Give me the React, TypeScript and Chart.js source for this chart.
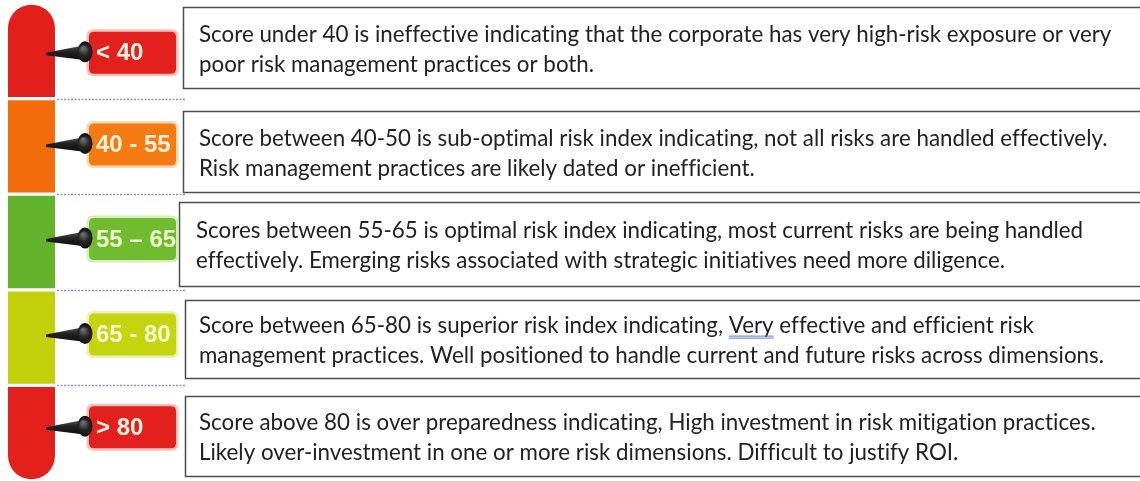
import React, { useEffect, useRef } from 'react';
import { Chart, registerables } from 'chart.js';

Chart.register(...registerables);

// ---- data ----
const bandLabels = ['< 40', '40 - 55', '55 – 65', '65 - 80', '> 80'];
const bandFill = [1, 1, 1, 1, 1];
const bandLine1 = [
  'Score under 40 is ineffective indicating that the corporate has very high-risk exposure or very',
  'Score between 40-50 is sub-optimal risk index indicating, not all risks are handled effectively.',
  'Scores between 55-65 is optimal risk index indicating, most current risks are being handled',
  'Score between 65-80 is superior risk index indicating, Very effective and efficient risk',
  'Score above 80 is over preparedness indicating, High investment in risk mitigation practices.',
];
const bandLine2 = [
  'poor risk management practices or both.',
  'Risk management practices are likely dated or inefficient.',
  'effectively. Emerging risks associated with strategic initiatives need more diligence.',
  'management practices. Well positioned to handle current and future risks across dimensions.',
  'Likely over-investment in one or more risk dimensions. Difficult to justify ROI.',
];

// ---- styles / layout ----
const bandColors = ['#e11f1b', '#f36c0c', '#62b22c', '#c3d10d', '#e3201c'];
const badgeColors = ['#e2201d', '#f47a12', '#71bb2e', '#c4d40f', '#e2201d'];
const badgeHalo = ['#f7c2ba', '#fbd6b2', '#d6ecc0', '#ecf1b4', '#f7c2ba'];
const badgeTextColors = ['#fff4e4', '#fff1dc', '#eef8d2', '#f7f8d2', '#fff4e4'];
const badgeShift = [2, -2, -3, -3, -6];
const boxShift = [-3, 5, 2, 1, 3];
const boxHeight = [81, 81, 84, 78, 80];
const boxLeft = [183, 183, 179, 185, 185];
const textLeft = [199, 199, 196, 199, 199];

function roundRect(ctx: CanvasRenderingContext2D, x: number, y: number, w: number, h: number, r: number) {
  ctx.beginPath();
  ctx.moveTo(x + r, y);
  ctx.lineTo(x + w - r, y);
  ctx.quadraticCurveTo(x + w, y, x + w, y + r);
  ctx.lineTo(x + w, y + h - r);
  ctx.quadraticCurveTo(x + w, y + h, x + w - r, y + h);
  ctx.lineTo(x + r, y + h);
  ctx.quadraticCurveTo(x, y + h, x, y + h - r);
  ctx.lineTo(x, y + r);
  ctx.quadraticCurveTo(x, y, x + r, y);
  ctx.closePath();
}

const infoPlugin = {
  id: 'riskInfo',
  afterDatasetsDraw(chart: any) {
    const ctx: any = chart.ctx;
    const yScale = chart.scales.y;
    const area = chart.chartArea;
    const n = bandLabels.length;
    ctx.save();

    // dotted separators
    ctx.strokeStyle = '#7f9bc4';
    ctx.lineWidth = 1.5;
    ctx.setLineDash([2, 1.5]);
    for (let i = 0; i < n - 1; i++) {
      const y = Math.round((yScale.getPixelForValue(i) + yScale.getPixelForValue(i + 1)) / 2) + 0.5;
      ctx.beginPath();
      ctx.moveTo(area.right + 2, y);
      ctx.lineTo(186, y);
      ctx.stroke();
    }
    ctx.setLineDash([]);

    // font fit (ligatures disabled via tiny letter spacing)
    if ('letterSpacing' in ctx) ctx.letterSpacing = '0.01px';
    ctx.font = '100px Lato, "Open Sans", sans-serif';
    const fs = (100 * 912) / ctx.measureText(bandLine1[0]).width;
    const bodyFont = `${fs.toFixed(2)}px Lato, "Open Sans", sans-serif`;

    for (let i = 0; i < n; i++) {
      const rc = yScale.getPixelForValue(i);

      // text box
      const bc = rc + boxShift[i];
      const bh = boxHeight[i];
      const top = Math.round(bc - bh / 2) + 0.5;
      ctx.fillStyle = '#ffffff';
      ctx.fillRect(boxLeft[i] + 0.5, top, 1160 - boxLeft[i], bh);
      ctx.strokeStyle = '#4d4d4d';
      ctx.lineWidth = 1.5;
      ctx.strokeRect(boxLeft[i] + 0.5, top, 1160 - boxLeft[i], bh);

      ctx.fillStyle = '#222222';
      ctx.font = bodyFont;
      if ('letterSpacing' in ctx) ctx.letterSpacing = '0.01px';
      ctx.textBaseline = 'middle';
      ctx.textAlign = 'left';
      const l1 = bc - 13;
      const l2 = bc + 17;
      ctx.fillText(bandLine1[i], textLeft[i], l1);
      ctx.fillText(bandLine2[i], textLeft[i], l2);
      const vIdx = bandLine1[i].indexOf(', Very');
      if (vIdx >= 0) {
        const x0 = textLeft[i] + ctx.measureText(bandLine1[i].slice(0, vIdx + 2)).width;
        const w = ctx.measureText('Very').width;
        ctx.strokeStyle = '#5a7fc8';
        ctx.lineWidth = 1;
        for (const dy of [10.5, 12.5]) {
          ctx.beginPath();
          ctx.moveTo(x0, l1 + dy);
          ctx.lineTo(x0 + w, l1 + dy);
          ctx.stroke();
        }
      }
      if ('letterSpacing' in ctx) ctx.letterSpacing = '0px';

      // badge
      const cy = rc + badgeShift[i];
      const bx = 89, bw = 87, bhh = 42;
      ctx.fillStyle = badgeHalo[i];
      roundRect(ctx, bx - 2.5, cy - bhh / 2 - 2.5, bw + 5, bhh + 5, 7);
      ctx.fill();
      ctx.fillStyle = badgeColors[i];
      roundRect(ctx, bx, cy - bhh / 2, bw, bhh, 5);
      ctx.fill();
      ctx.fillStyle = badgeTextColors[i];
      ctx.font = 'bold 24px "Liberation Sans", Arial, sans-serif';
      ctx.textBaseline = 'middle';
      ctx.fillText(bandLabels[i], 96, cy + 1);

      // pin
      const g = ctx.createLinearGradient(0, cy - 8, 0, cy + 8);
      g.addColorStop(0, '#5a5a5a');
      g.addColorStop(0.45, '#222222');
      g.addColorStop(1, '#0c0c0c');
      ctx.fillStyle = g;
      ctx.beginPath();
      ctx.moveTo(46, cy + 0);
      ctx.lineTo(82, cy - 7);
      ctx.lineTo(82, cy + 7);
      ctx.lineTo(46, cy + 2.5);
      ctx.closePath();
      ctx.fill();
      const rg = ctx.createRadialGradient(83, cy - 5, 1, 85, cy, 10);
      rg.addColorStop(0, '#6e6e6e');
      rg.addColorStop(0.5, '#262626');
      rg.addColorStop(1, '#0e0e0e');
      ctx.fillStyle = rg;
      ctx.beginPath();
      ctx.ellipse(85, cy - 1, 7.5, 10.5, 0, 0, Math.PI * 2);
      ctx.fill();
    }
    ctx.restore();
  },
};

export default function App() {
  const ref = useRef<HTMLCanvasElement | null>(null);
  useEffect(() => {
    if (!ref.current) return;
    const r = 24;
    const chart = new Chart(ref.current, {
      type: 'bar',
      data: {
        labels: bandLabels,
        datasets: [
          {
            data: bandFill,
            backgroundColor: bandColors,
            borderSkipped: false,
            borderRadius: (c: any) =>
              c.dataIndex === 0
                ? { topLeft: r, topRight: r, bottomLeft: 0, bottomRight: 0 }
                : c.dataIndex === bandFill.length - 1
                ? { topLeft: 0, topRight: 0, bottomLeft: r, bottomRight: r }
                : 0,
            barPercentage: 0.965,
            categoryPercentage: 1,
          } as any,
        ],
      },
      options: {
        indexAxis: 'y',
        animation: false,
        responsive: false,
        devicePixelRatio: 1,
        events: [],
        layout: { padding: { left: 8, right: 1085, top: 3, bottom: -3 } },
        scales: {
          x: { display: false, min: 0, max: 1 },
          y: { display: false },
        },
        plugins: { legend: { display: false }, tooltip: { enabled: false } },
      } as any,
      plugins: [infoPlugin],
    });
    return () => chart.destroy();
  }, []);
  return (
    <div style={{ position: 'absolute', left: 0, top: 0, width: 1140, height: 481, background: '#ffffff' }}>
      <canvas ref={ref} width={1140} height={481} style={{ display: 'block' }} />
    </div>
  );
}
